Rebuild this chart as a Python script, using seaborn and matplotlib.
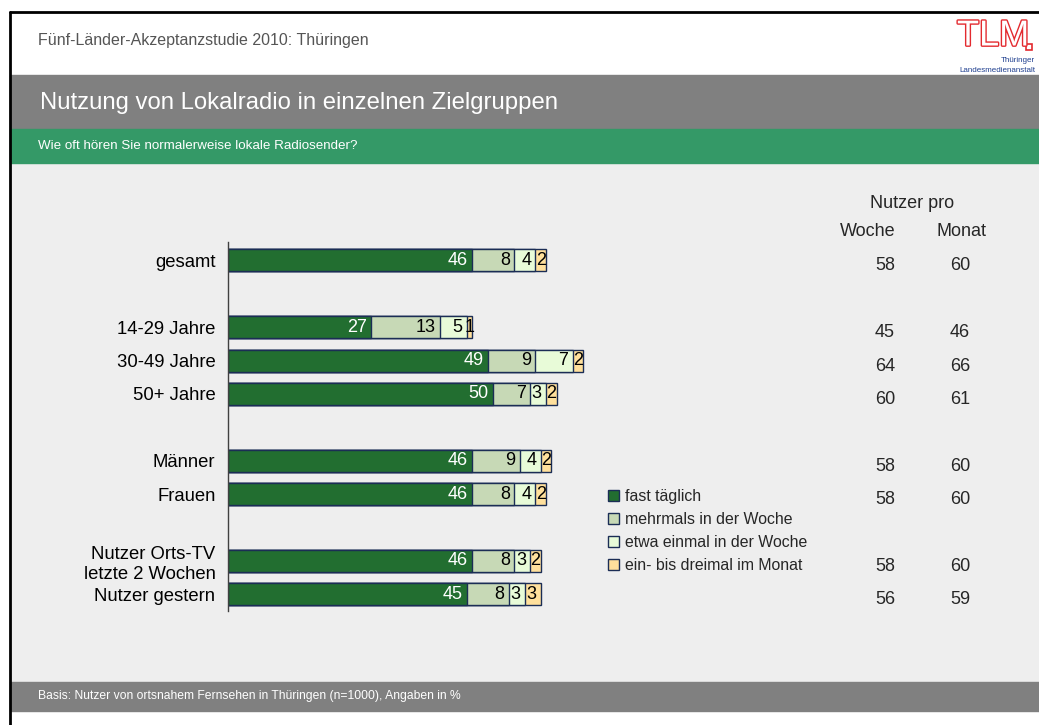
"""
Nutzung von Lokalradio in einzelnen Zielgruppen - stacked horizontal bars
"""
import pandas as pd
import seaborn as sb
import matplotlib.pyplot as plt
from matplotlib.patches import Rectangle, Patch
import matplotlib.patheffects as pe

# --- data -------------------------------------------------------------------
groups = ["gesamt", "14-29 Jahre", "30-49 Jahre", "50+ Jahre",
          "Männer", "Frauen", "Nutzer Orts-TV\nletzte 2 Wochen", "Nutzer gestern"]
row_pos = [0, 2, 3, 4, 6, 7, 9, 10]   # gaps between blocks of groups
fast_taeglich = [46, 27, 49, 50, 46, 46, 46, 45]
mehrmals_woche = [8, 13, 9, 7, 9, 8, 8, 8]
einmal_woche = [4, 5, 7, 3, 4, 4, 3, 3]
ein_dreimal_monat = [2, 1, 2, 2, 2, 2, 2, 3]
nutzer_woche = [58, 45, 64, 60, 58, 58, 58, 56]
nutzer_monat = [60, 46, 66, 61, 60, 60, 60, 59]

series_names = ["fast täglich", "mehrmals in der Woche",
                "etwa einmal in der Woche", "ein- bis dreimal im Monat"]
series_vals = [fast_taeglich, mehrmals_woche, einmal_woche, ein_dreimal_monat]
colors = ["#226e30", "#c7d9b6", "#e8fbd8", "#ffe09c"]
edge = "#1b2d55"

W, H = 1039, 725
sb.set_theme(style="white")
plt.rcParams["font.family"] = ["Liberation Sans", "DejaVu Sans"]


def fx(x):
    return x / W


def fy(y):
    return 1 - y / H


def panel(y0, y1, color):
    fig.patches.append(Rectangle((fx(10), fy(y1)), 1, (y1 - y0) / H,
                                 transform=fig.transFigure, color=color, zorder=-1))


# long table of cumulative ends so the stacks can be overlaid
rows = []
for i, g in enumerate(groups):
    cum = 0
    for name, vals in zip(series_names, series_vals):
        cum += vals[i]
        rows.append({"pos": row_pos[i], "group": g, "series": name,
                     "value": vals[i], "end": cum})
df = pd.DataFrame(rows)

fig = plt.figure(figsize=(W / 100, H / 100), dpi=100)
fig.patch.set_facecolor("white")

# page background panels
panel(163, 682, "#eeeeee")
panel(75, 129, "#808080")
panel(129, 163, "#349967")
panel(682, 711, "#808080")
fig.add_artist(plt.Line2D([fx(10), fx(10)], [fy(12), 0], transform=fig.transFigure,
                          color="black", lw=2))
fig.add_artist(plt.Line2D([fx(10), 1], [fy(12), fy(12)], transform=fig.transFigure,
                          color="black", lw=2))

fig.text(fx(38), fy(41), "Fünf-Länder-Akzeptanzstudie 2010: Thüringen",
         fontsize=11.5, color="#555555", va="center")
fig.text(fx(40), fy(103), "Nutzung von Lokalradio in einzelnen Zielgruppen",
         fontsize=17.2, color="white", va="center")
fig.text(fx(38), fy(146), "Wie oft hören Sie normalerweise lokale Radiosender?",
         fontsize=9.6, color="white", va="center")
fig.text(fx(38), fy(696), "Basis: Nutzer von ortsnahem Fernsehen in Thüringen (n=1000), Angaben in %",
         fontsize=8.7, color="white", va="center")

# logo
fig.text(fx(957), fy(36), "TLM", fontsize=26, color="white", va="center",
         path_effects=[pe.Stroke(linewidth=2, foreground="#e32a2f"), pe.Normal()])
fig.patches.append(Rectangle((fx(1026), fy(50)), 6 / W, 6 / H, transform=fig.transFigure,
                             facecolor="white", edgecolor="#e32a2f", lw=1.2))
fig.text(fx(1035), fy(61), "Thüringer", fontsize=5.8, color="#1f3f8f", ha="right", va="center")
fig.text(fx(1035), fy(70), "Landesmedienanstalt", fontsize=5.8, color="#1f3f8f",
         ha="right", va="center")

# bar chart
ax = fig.add_axes([fx(228), fy(611), (70 * 5.3) / W, (611 - 242) / H])
ax.set_facecolor("none")
hue_order = series_names[::-1]   # longest cumulative first, then overlay
sb.barplot(data=df, x="end", y="pos", hue="series", hue_order=hue_order,
           palette=dict(zip(series_names, colors)), orient="h", native_scale=True,
           dodge=False, width=0.66, saturation=1, edgecolor=edge, linewidth=1,
           legend=False, ax=ax)

ax.set_xlim(0, 70)
ax.set_ylim(10.5, -0.55)
ax.set_yticks(row_pos)
ax.set_yticklabels(groups, fontsize=13.3, color="black")
ax.set_xticks([])
ax.set_xlabel("")
ax.set_ylabel("")
ax.tick_params(axis="y", length=0, pad=9)
for s in ["top", "right", "bottom"]:
    ax.spines[s].set_visible(False)
ax.spines["left"].set_color("#404040")
ax.spines["left"].set_linewidth(1)

# value labels
for _, r in df.iterrows():
    col = "white" if r["series"] == series_names[0] else "black"
    if r["value"] < 3:
        ax.text(r["end"] - r["value"] / 2, r["pos"], str(r["value"]), ha="center",
                va="center", fontsize=13, color=col)
    else:
        ax.annotate(str(r["value"]), (r["end"], r["pos"]), xytext=(-3, 0),
                    textcoords="offset points", ha="right", va="center",
                    fontsize=13, color=col)

# Nutzer pro columns
fig.text(fx(912), fy(204), "Nutzer pro", fontsize=13, ha="center", va="center")
fig.text(fx(868), fy(231), "Woche", fontsize=13, ha="center", va="center")
fig.text(fx(961), fy(231), "Monat", fontsize=13, ha="center", va="center")
for p, w, m in zip(row_pos, nutzer_woche, nutzer_monat):
    ax.annotate(str(w), (fx(885), p), xycoords=("figure fraction", "data"),
                xytext=(0, -4), textcoords="offset points",
                ha="center", va="center", fontsize=13, annotation_clip=False)
    ax.annotate(str(m), (fx(960), p), xycoords=("figure fraction", "data"),
                xytext=(0, -4), textcoords="offset points",
                ha="center", va="center", fontsize=13, annotation_clip=False)

handles = [Patch(facecolor=c, edgecolor=edge, linewidth=1) for c in colors]
fig.legend(handles, series_names, loc="upper left", bbox_to_anchor=(fx(608), fy(489)),
           frameon=False, fontsize=11.4, handlelength=0.7, handleheight=0.7,
           handletextpad=0.4, labelspacing=0.5, borderpad=0, borderaxespad=0)

fig.savefig("out.png", dpi=100)
